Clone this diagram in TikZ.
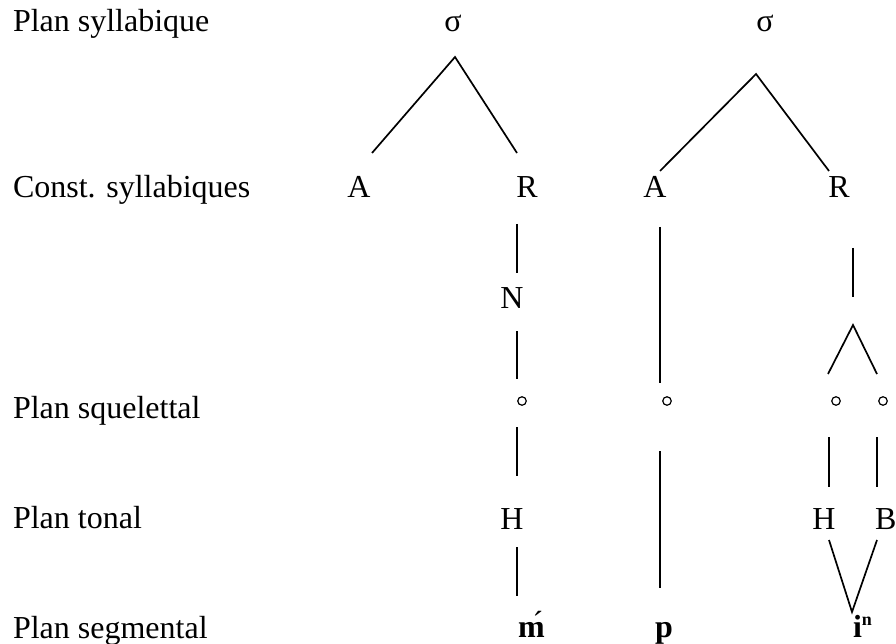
\documentclass[tikz,border=0pt]{standalone}
\usepackage{fontspec}
\setmainfont{Liberation Serif}
\begin{document}
\begin{tikzpicture}[x=1pt,y=-1pt,
  every node/.style={inner sep=0pt,outer sep=0pt,font=\fontsize{32}{38}\selectfont},
  lbl/.style={anchor=base west},
  sym/.style={anchor=base},
  seg/.style={anchor=base west,font=\fontsize{32}{38}\selectfont\bfseries},
  ring/.style={circle,draw,line width=1.2pt,minimum size=8.5pt},
  edge/.style={line width=1.7pt}]
\useasboundingbox (0,0) rectangle (896,644);
% row labels
\node[lbl] (l1) at (13,32) {Plan syllabique};
\node[lbl] (l2) at (13,198) {Const. syllabiques};
\node[lbl] (l3) at (13,418) {Plan squelettal};
\node[lbl] (l4) at (13,528) {Plan tonal};
\node[lbl] (l5) at (13,638) {Plan segmental};
% syllable 1
\node[sym] (s1) at (453,32) {σ};
\node[sym] (a1) at (359,198) {A};
\node[sym] (r1) at (527,198) {R};
\node[sym] (n1) at (512,308) {N};
\node[ring] (o1) at (522,401) {};
\node[sym] (h1) at (512,529) {H};
\node[seg] (m1) at (518,637) {m\llap{\raisebox{4pt}{\mdseries ´}\kern1.4pt}};
% syllable 2
\node[sym] (s2) at (765,32) {σ};
\node[sym] (a2) at (655,198) {A};
\node[sym] (r2) at (839,198) {R};
\node[ring] (o2) at (667,401) {};
\node[seg] (p2) at (655,637) {p};
\node[ring] (o3) at (836,401) {};
\node[ring] (o4) at (883,401) {};
\node[sym] (h2) at (824,529) {H};
\node[lbl] (b2) at (875,529) {B};
\node[seg] (i2) at (853,637) {i\raisebox{12pt}{\fontsize{18}{18}\selectfont\bfseries n}};
% connector end points
\coordinate (t1) at (455,57);
\coordinate (t1a) at (372,153);
\coordinate (t1r) at (517,153);
\coordinate (t2) at (756,74);
\coordinate (t2a) at (660,171);
\coordinate (t2r) at (829,171);
\coordinate (rN1) at (517,224);
\coordinate (rN2) at (517,273);
\coordinate (No1) at (517,331);
\coordinate (No2) at (517,379);
\coordinate (oH1) at (517,427);
\coordinate (oH2) at (517,476);
\coordinate (Hm1) at (517,547);
\coordinate (Hm2) at (517,596);
\coordinate (ao1) at (660,227);
\coordinate (ao2) at (660,383);
\coordinate (op1) at (660,451);
\coordinate (op2) at (660,588);
\coordinate (rv1) at (853,248);
\coordinate (rv2) at (853,297);
\coordinate (fk) at (853,325);
\coordinate (fkl) at (828,374);
\coordinate (fkr) at (877,374);
\coordinate (oh1) at (829,437);
\coordinate (oh2) at (829,487);
\coordinate (ob1) at (877,437);
\coordinate (ob2) at (877,487);
\coordinate (vh) at (829,540);
\coordinate (vb) at (877,540);
\coordinate (vi) at (852,612);
% connectors
\draw[edge] (t1a) -- (t1) -- (t1r);
\draw[edge] (t2a) -- (t2) -- (t2r);
\draw[edge] (rN1) -- (rN2);
\draw[edge] (No1) -- (No2);
\draw[edge] (oH1) -- (oH2);
\draw[edge] (Hm1) -- (Hm2);
\draw[edge] (ao1) -- (ao2);
\draw[edge] (op1) -- (op2);
\draw[edge] (rv1) -- (rv2);
\draw[edge] (fkl) -- (fk) -- (fkr);
\draw[edge] (oh1) -- (oh2);
\draw[edge] (ob1) -- (ob2);
\draw[edge] (vh) -- (vi) -- (vb);
\end{tikzpicture}
\end{document}
